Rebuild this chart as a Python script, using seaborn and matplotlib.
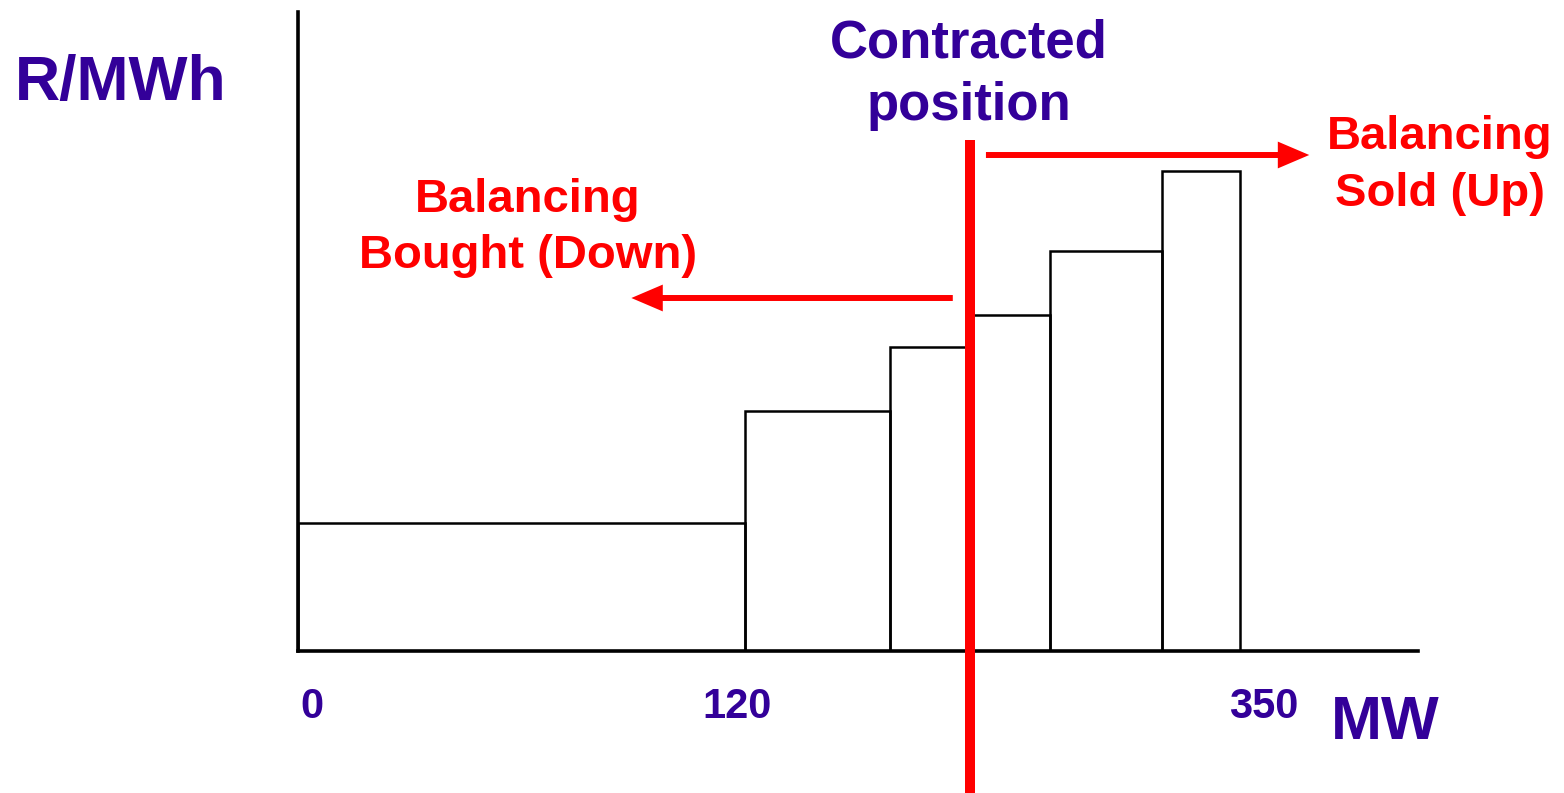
import matplotlib
matplotlib.use("Agg")
import matplotlib.pyplot as plt
import numpy as np
import pandas as pd
import seaborn as sns

# Stepped offer curve (schematic): block edges in MW and price of each block
bar_edges_mw = [0, 120, 159, 180, 202, 232, 253]
bar_prices = [32, 60, 76, 84, 100, 120]
contracted_mw = 180.4

tick_labels = ["0", "120", "350"]
tick_label_pos = [3.8, 117.9, 259.3]

PURPLE = "#330099"
RED = "#ff0000"

sns.set_style("white")
plt.rcParams["font.family"] = ["Liberation Sans", "DejaVu Sans"]
plt.rcParams["font.weight"] = "bold"

fig = plt.figure(figsize=(15.64, 7.93), dpi=100)
ax = fig.add_axes([298 / 1564, 142 / 793, 1120 / 1564, 639 / 793])

edges = np.array(bar_edges_mw, dtype=float)
blocks = pd.DataFrame({"mw": (edges[:-1] + edges[1:]) / 2, "price": bar_prices})
sns.histplot(data=blocks, x="mw", weights="price", bins=list(bar_edges_mw),
             fill=False, color="black", linewidth=1.8, ax=ax)

ax.set_xlim(0, 300.7)
ax.set_ylim(0, 159.75)
ax.set_xticks([])
ax.set_yticks([])
ax.set_xlabel("")
ax.set_ylabel("")
sns.despine(ax=ax, top=True, right=True)
for side in ["left", "bottom"]:
    ax.spines[side].set_color("black")
    ax.spines[side].set_linewidth(2.6)

# contracted position line (runs past the axis down to the edge of the figure)
ax.plot([contracted_mw, contracted_mw], [127.75, -45], color=RED, lw=7.2,
        solid_capstyle="butt", clip_on=False, zorder=5)

arrow = dict(arrowstyle="-|>,head_length=0.75,head_width=0.32", color=RED,
             lw=4.3, mutation_scale=20, shrinkA=0, shrinkB=0,
             joinstyle="miter", capstyle="butt")
ax.annotate("", xy=(271.5, 124), xytext=(184.7, 124), arrowprops=arrow,
            annotation_clip=False)
ax.annotate("", xy=(89.5, 88.25), xytext=(175.8, 88.25), arrowprops=arrow,
            annotation_clip=False)

def label(x, y, s, size, color):
    ax.text(x, y, s, fontsize=size, color=color, fontweight="bold",
            ha="center", va="baseline", clip_on=False)

label(-47.5, 137.75, "R/MWh", 45, PURPLE)
label(291.8, -22, "MW", 44, PURPLE)
label(180.1, 148.5, "Contracted", 38, PURPLE)
label(180.1, 132.75, "position", 38, PURPLE)
label(61.7, 109.75, "Balancing", 34, RED)
label(61.7, 95.75, "Bought (Down)", 34, RED)
label(306.6, 125.5, "Balancing", 34, RED)
label(306.6, 111.25, "Sold (Up)", 34, RED)

for pos, txt in zip(tick_label_pos, tick_labels):
    label(pos, -16.75, txt, 30, PURPLE)

fig.savefig("out.png", dpi=100)
